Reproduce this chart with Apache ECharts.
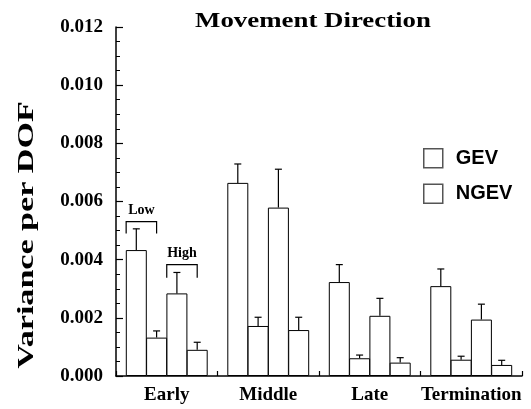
<!DOCTYPE html>
<html>
<head>
<meta charset="utf-8">
<script src="https://cdn.jsdelivr.net/npm/echarts@6/dist/echarts.min.js"></script>
<style>html,body{margin:0;padding:0;background:#fff;}#c{width:531px;height:409px;}</style>
</head>
<body>
<div id="c"></div>
<script>
// ---- data ----
const phases = ['Early', 'Middle', 'Late', 'Termination'];
const gevLow = [0.00433, 0.00664, 0.00323, 0.00309];
const gevLowErr = [0.00073, 0.00065, 0.00060, 0.00059];
const ngevLow = [0.00132, 0.00172, 0.00061, 0.00056];
const ngevLowErr = [0.00023, 0.00030, 0.00011, 0.00012];
const gevHigh = [0.00284, 0.00579, 0.00207, 0.00194];
const gevHighErr = [0.00072, 0.00132, 0.00060, 0.00053];
const ngevHigh = [0.00090, 0.00158, 0.00046, 0.00038];
const ngevHighErr = [0.00026, 0.00044, 0.00017, 0.00016];
const yTicks = [0, 0.002, 0.004, 0.006, 0.008, 0.010, 0.012];
// bracket annotations (in data units): [xStart, xEnd, yTop, yBottom, label]
const brackets = [
  [0.5, 2, 0.00531, 0.00490, 'Low'],
  [2.5, 4, 0.00383, 0.00338, 'High']
];

// slot layout: each phase has 4 bar slots followed by a gap slot
const SLOTS = 5;
function slotX(phaseIdx, k) { return phaseIdx * SLOTS + 1 + k; }

const gevData = [], ngevData = [], errData = [];
phases.forEach((p, i) => {
  gevData.push([slotX(i, 0), gevLow[i]]);
  ngevData.push([slotX(i, 1), ngevLow[i]]);
  gevData.push([slotX(i, 2), gevHigh[i]]);
  ngevData.push([slotX(i, 3), ngevHigh[i]]);
  errData.push([slotX(i, 0), gevLow[i], gevLow[i] + gevLowErr[i]]);
  errData.push([slotX(i, 1), ngevLow[i], ngevLow[i] + ngevLowErr[i]]);
  errData.push([slotX(i, 2), gevHigh[i], gevHigh[i] + gevHighErr[i]]);
  errData.push([slotX(i, 3), ngevHigh[i], ngevHigh[i] + ngevHighErr[i]]);
});

const serif = 'Liberation Serif';
const chart = echarts.init(document.getElementById('c'));
const barStyle = { color: '#fff', borderColor: '#000', borderWidth: 1 };

chart.setOption({
  animation: false,
  backgroundColor: '#fff',
  graphic: [
    {
      type: 'text', x: 313, y: 21, scaleX: 1.22, z: 10,
      style: { text: 'Movement Direction', textAlign: 'center', textVerticalAlign: 'middle',
        font: 'bold 22px "Liberation Serif"', fill: '#000' }
    },
    {
      type: 'text', x: 27, y: 235, rotation: Math.PI / 2, scaleX: 1.42, z: 10,
      style: { text: 'Variance per DOF', textAlign: 'center', textVerticalAlign: 'middle',
        font: 'bold 24px "Liberation Serif"', fill: '#000' }
    }
  ],
  legend: {
    orient: 'vertical', left: 423, top: 148, padding: 0,
    itemWidth: 19, itemHeight: 19, itemGap: 15,
    icon: 'rect',
    data: [
      { name: 'GEV', itemStyle: { color: '#fff', borderColor: '#555', borderWidth: 1.5 } },
      { name: 'NGEV', itemStyle: { color: '#fff', borderColor: '#555', borderWidth: 1.5 } }
    ],
    textStyle: { fontFamily: 'Liberation Sans', fontWeight: 'bold', fontSize: 20, color: '#000', padding: [0, 0, 0, 8] }
  },
  grid: { left: 116, right: 9, top: 27, bottom: 33 },
  xAxis: [
    {
      type: 'value', min: 0, max: phases.length * SLOTS, interval: 1,
      axisLine: { show: true, lineStyle: { color: '#000', width: 1.5 } },
      axisTick: { show: true, inside: true, length: 5, lineStyle: { color: '#000', width: 1.2 } },
      axisLabel: { show: false },
      splitLine: { show: false }
    },
    {
      type: 'category', data: phases, position: 'bottom', boundaryGap: true,
      axisLine: { show: false }, axisTick: { show: false }, splitLine: { show: false },
      axisLabel: { show: true, interval: 0, margin: 10, fontFamily: serif, fontWeight: 'bold', fontSize: 19, color: '#000' }
    }
  ],
  yAxis: {
    type: 'value', min: yTicks[0], max: yTicks[yTicks.length - 1], interval: 0.002,
    axisLine: { show: true, lineStyle: { color: '#000', width: 1.5 } },
    axisTick: { show: true, inside: true, length: 7, lineStyle: { color: '#000', width: 1.2 } },
    minorTick: { show: true, splitNumber: 4, length: 4, lineStyle: { color: '#000', width: 1 } },
    axisLabel: { margin: 13, fontFamily: serif, fontWeight: 'bold', fontSize: 19, color: '#000',
      formatter: v => v.toFixed(3) },
    splitLine: { show: false }
  },
  series: [
    { name: 'GEV', type: 'bar', data: gevData, barWidth: 21, barGap: '-100%', itemStyle: barStyle, z: 2 },
    { name: 'NGEV', type: 'bar', data: ngevData, barWidth: 21, barGap: '-100%', itemStyle: barStyle, z: 2 },
    {
      name: 'err', type: 'custom', data: errData, z: 3,
      renderItem: function (params, api) {
        const base = api.coord([api.value(0), api.value(1)]);
        const top = api.coord([api.value(0), api.value(2)]);
        const hw = 3.5;
        return {
          type: 'group',
          children: [
            { type: 'line', shape: { x1: base[0], y1: base[1], x2: top[0], y2: top[1] }, style: { stroke: '#000', lineWidth: 1.2 } },
            { type: 'line', shape: { x1: top[0] - hw, y1: top[1], x2: top[0] + hw, y2: top[1] }, style: { stroke: '#000', lineWidth: 1.2 } }
          ]
        };
      }
    },
    {
      name: 'brackets', type: 'custom', data: brackets.map(b => b.slice(0, 4)), z: 3,
      renderItem: function (params, api) {
        const b = brackets[params.dataIndex];
        const p1 = api.coord([b[0], b[3]]);
        const p2 = api.coord([b[0], b[2]]);
        const p3 = api.coord([b[1], b[2]]);
        const p4 = api.coord([b[1], b[3]]);
        return {
          type: 'group',
          children: [
            { type: 'polyline', shape: { points: [p1, p2, p3, p4] }, style: { stroke: '#000', lineWidth: 1.2, fill: null } },
            { type: 'text', style: { text: b[4], x: (p2[0] + p3[0]) / 2, y: p2[1] - 4, textAlign: 'center', textVerticalAlign: 'bottom',
              font: 'bold 14px "Liberation Serif"', fill: '#000' } }
          ]
        };
      }
    }
  ]
});
</script>
</body>
</html>
